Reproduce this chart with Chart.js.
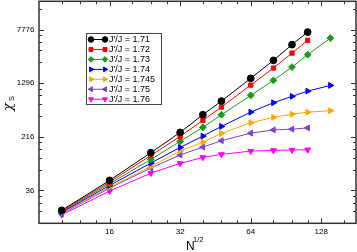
<!DOCTYPE html>
<html>
<head>
<meta charset="utf-8">
<script src="https://cdn.jsdelivr.net/npm/chart.js@4"></script>
<style>
  html, body { margin: 0; padding: 0; background: #fff; }
  canvas { display: block; }
</style>
</head>
<body>
<canvas id="chiChart" width="357" height="252"></canvas>
<script>
// N^(1/2) values
const sizes = [10, 16, 24, 32, 40, 48, 64, 80, 96, 112, 140];

// chi_S per J'/J
const chi171 = [18.5, 50.3, 127, 250, 452, 712, 1523, 2778, 4695, 7153];
const chi172 = [18.0, 47.5, 116, 219, 374, 583, 1216, 2147, 3545, 5421];
const chi173 = [17.7, 45.0, 101.5, 185, 296, 452, 862, 1423, 2220, 3361, 5854];
const chi174 = [17.3, 42.5, 89.7, 151.6, 221, 306, 493, 675, 834, 995, 1204];
const chi1745 = [16.9, 40.2, 80.3, 134.8, 181, 242, 346, 413, 460, 493, 517];
const chi175 = [16.5, 38.9, 75.9, 118, 153, 189.6, 244, 272, 279, 291];
const chi176 = [15.9, 35.2, 64.2, 88.8, 108.5, 120, 134, 137, 139, 140];

const seriesLabels = ["J'/J = 1.71", "J'/J = 1.72", "J'/J = 1.73", "J'/J = 1.74",
                      "J'/J = 1.745", "J'/J = 1.75", "J'/J = 1.76"];

// axis ticks
const xTickValues = [16, 32, 64, 128];
const xMinorValues = [10, 12, 14, 20, 24, 28, 40, 48, 56, 80, 96, 112, 160];
const yTickValues = [36, 216, 1296, 7776];

const styles = [
    { color: '#000000', point: 'circle', rot: 0 },
    { color: '#ff0000', point: 'rect', rot: 0 },
    { color: '#1a9a1a', point: 'rectRot', rot: 0 },
    { color: '#0000ff', point: 'triangle', rot: 90 },
    { color: '#ffa500', point: 'triangle', rot: 90 },
    { color: '#7a44c4', point: 'triangle', rot: -90 },
    { color: '#ff00ff', point: 'triangle', rot: 180 }
];

function toPoints(vals) {
    return vals.map((v, i) => ({ x: sizes[i], y: v }));
}

const allSeries = [chi171, chi172, chi173, chi174, chi1745, chi175, chi176];

const datasets = allSeries.map((vals, i) => ({
    label: seriesLabels[i],
    data: toPoints(vals),
    borderColor: styles[i].color,
    backgroundColor: styles[i].color,
    borderWidth: 1,
    pointStyle: styles[i].point,
    rotation: styles[i].rot,
    pointRadius: styles[i].point === 'rect' ? 3 : 3.4,
    pointBorderWidth: 1,
    tension: 0
}));

// frame, inward ticks, axis titles and the inset legend
const decorations = {
    id: 'decorations',
    afterDraw(chart) {
        const { ctx, chartArea: a, scales: { x, y } } = chart;
        ctx.save();

        function seg(x1, y1, x2, y2) {
            ctx.beginPath();
            ctx.moveTo(x1, y1);
            ctx.lineTo(x2, y2);
            ctx.stroke();
        }

        ctx.strokeStyle = '#333';
        ctx.lineWidth = 1;
        xTickValues.forEach(v => {
            const px = Math.round(x.getPixelForValue(v)) + 0.5;
            seg(px, a.bottom, px, a.bottom - 5);
            seg(px, a.top, px, a.top + 5);
        });
        xMinorValues.forEach(v => {
            if (v < x.min || v > x.max) return;
            const px = Math.round(x.getPixelForValue(v)) + 0.5;
            seg(px, a.bottom, px, a.bottom - 3);
            seg(px, a.top, px, a.top + 3);
        });
        [6, 36, 216, 1296, 7776].forEach(p => {
            if (p >= y.min) {
                const py = Math.round(y.getPixelForValue(p)) + 0.5;
                seg(a.left, py, a.left + 5, py);
                seg(a.right, py, a.right - 5, py);
            }
            [2, 3, 4, 5].forEach(m => {
                const v = p * m;
                if (v <= y.min || v >= y.max) return;
                const py = Math.round(y.getPixelForValue(v)) + 0.5;
                seg(a.left, py, a.left + 3, py);
                seg(a.right, py, a.right - 3, py);
            });
        });

        ctx.lineWidth = 1.5;
        ctx.strokeRect(a.left, a.top, a.right - a.left, a.bottom - a.top);

        // axis titles
        ctx.fillStyle = '#000';
        ctx.textBaseline = 'alphabetic';
        ctx.textAlign = 'left';
        ctx.font = '12px "Liberation Sans", Arial, sans-serif';
        ctx.fillText('N', 186, 250);
        ctx.font = '7.5px "Liberation Sans", Arial, sans-serif';
        ctx.fillText('1/2', 193, 241.5);

        ctx.save();
        ctx.rotate(-Math.PI / 2);
        ctx.font = 'italic 13px "DejaVu Serif", serif';
        ctx.fillText('\u03c7', -111, 12);
        ctx.font = '7.5px "Liberation Sans", Arial, sans-serif';
        ctx.fillText('S', -101, 14);
        ctx.restore();

        // legend box
        const box = { left: 86, top: 33, right: 161, bottom: 104 };
        ctx.fillStyle = '#fff';
        ctx.fillRect(box.left, box.top, box.right - box.left, box.bottom - box.top);
        ctx.strokeStyle = '#444';
        ctx.lineWidth = 1;
        ctx.strokeRect(box.left + 0.5, box.top + 0.5, box.right - box.left, box.bottom - box.top);

        ctx.font = '9px "Liberation Sans", Arial, sans-serif';
        ctx.textBaseline = 'middle';
        chart.data.datasets.forEach((ds, i) => {
            const cy = 39.5 + i * 9.95;
            ctx.strokeStyle = ds.borderColor;
            ctx.lineWidth = 1;
            seg(91, cy, 105, cy);
            ctx.fillStyle = ds.backgroundColor;
            [91, 105].forEach(cx => {
                Chart.helpers.drawPoint(ctx, {
                    pointStyle: ds.pointStyle,
                    rotation: ds.rotation,
                    radius: 2.8,
                    borderWidth: 1
                }, cx, cy);
            });
            ctx.fillStyle = '#000';
            ctx.fillText(ds.label, 109, cy + 0.5);
        });

        ctx.restore();
    }
};

new Chart(document.getElementById('chiChart'), {
    type: 'line',
    data: { datasets: datasets },
    options: {
        responsive: false,
        animation: false,
        layout: { autoPadding: false, padding: { top: 1.3, right: 1, left: 0, bottom: 0 } },
        plugins: {
            legend: { display: false },
            tooltip: { enabled: false }
        },
        scales: {
            x: {
                type: 'logarithmic',
                min: 8,
                max: 180,
                grid: { display: false, drawTicks: false },
                border: { display: false },
                afterBuildTicks: scale => {
                    scale.ticks = xTickValues.map(v => ({ value: v }));
                },
                afterFit: scale => {
                    scale.height = 28.7;
                    scale.paddingLeft = 0;
                    scale.paddingRight = 0;
                },
                ticks: {
                    autoSkip: false,
                    maxRotation: 0,
                    padding: 4,
                    color: '#000',
                    font: { size: 8, family: '"Liberation Sans", Arial, sans-serif' },
                    callback: v => String(v)
                }
            },
            y: {
                type: 'logarithmic',
                min: 12,
                max: 20000,
                grid: { display: false, drawTicks: false },
                border: { display: false },
                afterBuildTicks: scale => {
                    scale.ticks = yTickValues.map(v => ({ value: v }));
                },
                afterFit: scale => {
                    scale.width = 39;
                    scale.paddingTop = 0;
                    scale.paddingBottom = 0;
                },
                ticks: {
                    autoSkip: false,
                    padding: 4.5,
                    color: '#000',
                    font: { size: 8, family: '"Liberation Sans", Arial, sans-serif' },
                    callback: v => String(v)
                }
            }
        }
    },
    plugins: [decorations]
});
</script>
</body>
</html>
